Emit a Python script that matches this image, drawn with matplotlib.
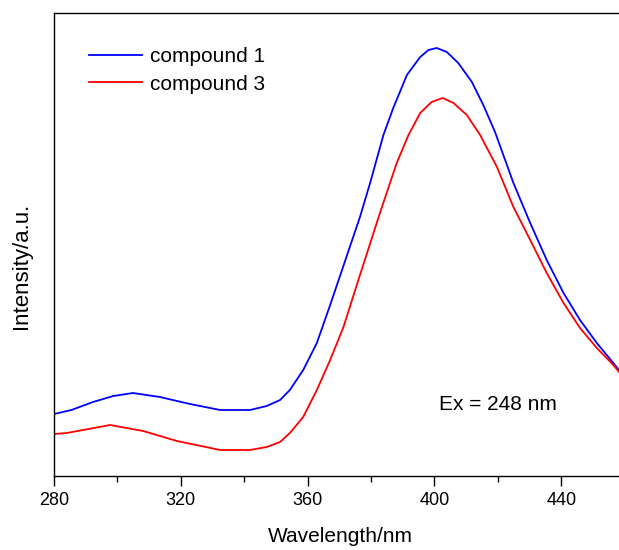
"""
Emission spectra of compound 1 and compound 3 (Ex = 248 nm)
"""
import matplotlib
matplotlib.use("Agg")
import matplotlib.pyplot as plt
from matplotlib.ticker import MultipleLocator, NullLocator

plt.rcParams["font.family"] = ["Liberation Sans", "DejaVu Sans"]

# Values (intensity in arbitrary units)
wl_1 = [280.0, 285.5, 292.3, 298.7, 304.9, 313.4, 322.9, 332.4, 341.8, 347.1,
        351.3, 354.4, 358.6, 362.9, 367.1, 370.2, 376.5, 379.7, 383.9, 387.0,
        391.3, 395.5, 398.1, 400.7, 403.9, 407.5, 411.8, 415.4, 419.1, 424.9,
        430.2, 435.4, 440.7, 445.9, 451.2, 456.4, 458.2]
int_1 = [62, 66, 74, 80, 83, 79, 72, 66, 66, 70,
         76, 86, 106, 133, 171, 200, 259, 293, 341, 368,
         401, 419, 426, 428, 424, 413, 394, 371, 344, 293,
         253, 216, 183, 156, 133, 113, 106]

wl_3 = [280.0, 284.0, 289.2, 297.7, 308.1, 318.8, 332.4, 341.8, 347.1, 351.3,
        354.4, 358.6, 362.9, 367.1, 371.3, 376.0, 382.8, 388.1, 391.8, 395.5,
        399.1, 402.6, 406.0, 410.2, 414.4, 419.7, 424.9, 430.2, 435.4, 440.7,
        445.9, 451.2, 456.4, 458.2]
int_3 = [42, 43, 46, 51, 45, 35, 26, 26, 29, 34,
         43, 59, 86, 116, 149, 196, 263, 313, 341, 363,
         374, 378, 373, 361, 341, 309, 269, 236, 203, 173,
         148, 128, 111, 104]

labels = ["compound 1", "compound 3"]

fig = plt.figure(figsize=(6.19, 5.5), dpi=100)
ax = fig.add_axes([54 / 619, 74 / 550, 565 / 619, 463 / 550])

ax.plot(wl_1, int_1, color="#0000FF", lw=1.3, label=labels[0])
ax.plot(wl_3, int_3, color="#FF0000", lw=1.3, label=labels[1])

ax.set_xlim(280, 458.2)
ax.set_ylim(0, 463)

# x ticks out with minor ticks between, no y ticks
ax.xaxis.set_major_locator(MultipleLocator(40))
ax.xaxis.set_minor_locator(MultipleLocator(20))
ax.yaxis.set_major_locator(NullLocator())
ax.tick_params(axis="x", which="major", direction="out", length=7.5, width=1.0,
               labelsize=13, pad=4)
ax.tick_params(axis="x", which="minor", direction="out", length=4.5, width=1.0)
ax.tick_params(top=False, right=False)

for side in ["left", "bottom", "top"]:
    ax.spines[side].set_linewidth(1.0)
ax.spines["right"].set_visible(False)

# Labels
ax.set_xlabel("Wavelength/nm", fontsize=15, va="center")
ax.xaxis.set_label_coords((340 - 54) / 565, -(537 - 476) / 463)
fig.text(21 / 619, 1 - 266 / 550, "Intensity/a.u.", fontsize=16,
         rotation=90, ha="center", va="center")

ax.text((439 - 54) / 565, 1 - (405 - 13) / 463, "Ex = 248 nm",
        transform=ax.transAxes, fontsize=15, ha="left", va="center")

ax.legend(loc="upper left", bbox_to_anchor=(35 / 565, 1 - 34 / 463), frameon=False,
          fontsize=15, handlelength=2.55, handletextpad=0.38, labelspacing=0.41,
          borderpad=0, borderaxespad=0)

fig.savefig("out.png", dpi=100)
